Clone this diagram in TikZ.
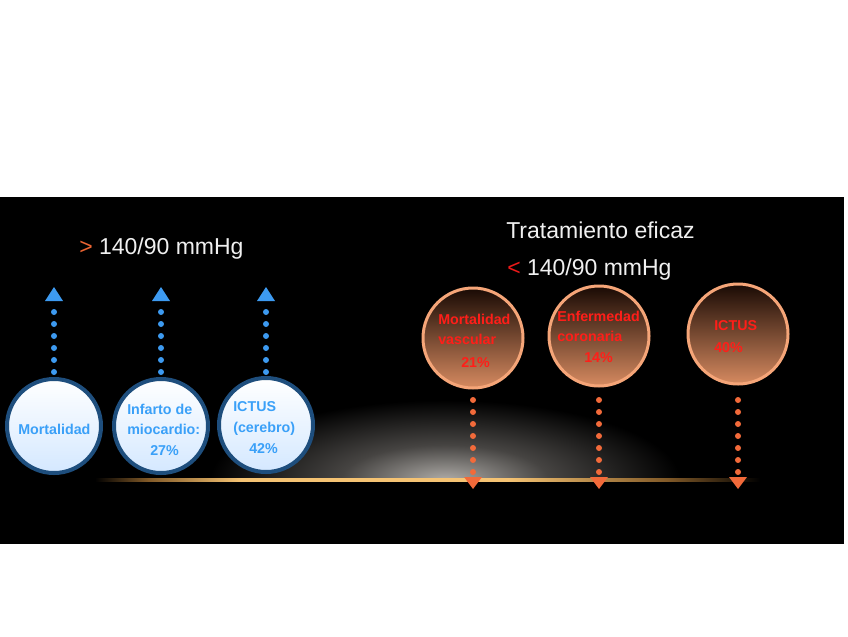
\documentclass[tikz,border=0pt]{standalone}
\usepackage{fontspec}
\setmainfont{Liberation Sans}
\usetikzlibrary{arrows.meta}
\definecolor{titlec}{RGB}{240,240,240}
\definecolor{gtc}{RGB}{235,100,50}
\definecolor{ltc}{RGB}{235,25,25}
\definecolor{bluetext}{RGB}{58,160,248}
\definecolor{bluedot}{RGB}{61,154,240}
\definecolor{blueborder}{RGB}{30,78,125}
\definecolor{bluefill}{RGB}{212,232,255}
\definecolor{odot}{RGB}{242,106,58}
\definecolor{oborder}{RGB}{245,165,120}
\definecolor{otop}{RGB}{25,10,4}
\definecolor{obot}{RGB}{214,138,96}
\definecolor{redtext}{RGB}{255,30,25}
\definecolor{glowc}{RGB}{175,172,168}
\definecolor{glowm}{RGB}{70,68,66}
\definecolor{goldc}{RGB}{245,195,115}
\definecolor{golddim}{RGB}{130,90,40}
\pgfdeclareradialshading{glowshade}{\pgfpointorigin}{color(0bp)=(glowc); color(11bp)=(glowm); color(25bp)=(black); color(50bp)=(black)}
\pgfdeclarehorizontalshading{goldshade}{100bp}{color(0bp)=(black); color(25bp)=(black); color(29bp)=(golddim); color(36bp)=(goldc); color(56bp)=(goldc); color(68bp)=(golddim); color(75bp)=(black); color(100bp)=(black)}
\begin{document}
\begin{tikzpicture}[x=0.75pt,y=-0.75pt,
  titletxt/.style={inner sep=0pt, anchor=base west, text=titlec, font=\fontsize{17.25}{20}\selectfont},
  btxt/.style={inner sep=0pt, anchor=base west, text=bluetext, font=\bfseries\fontsize{10.7}{12}\selectfont},
  rtxt/.style={inner sep=0pt, anchor=base west, text=redtext, font=\bfseries\fontsize{10.7}{12}\selectfont},
  bcirc/.style={circle, minimum size=70.5pt, inner sep=0pt, draw=blueborder, line width=3pt, top color=white, bottom color=bluefill},
  ocirc/.style={circle, minimum size=75pt, inner sep=0pt, draw=oborder, line width=2.25pt, top color=otop, bottom color=obot},
  bdots/.style={draw=bluedot, line width=4.5pt, line cap=round, dash pattern=on 0pt off 9pt, -{Triangle[length=10.5pt,width=13.5pt,line width=0pt]}},
  odots/.style={draw=odot, line width=4.5pt, line cap=round, dash pattern=on 0pt off 9pt, -{Triangle[length=9pt,width=13.5pt,line width=0pt]}}
]
\useasboundingbox (0,0) rectangle (848,636);
\fill[white] (0,0) rectangle (848,636);
\fill[black] (0,197) rectangle (844,544);
% glow above the horizon line
\begin{scope}
  \clip (0,197) rectangle (844,480);
  \shade[shading=glowshade] (445,480) ellipse [x radius=235, y radius=80];
\end{scope}
\shade[shading=goldshade] (95,478.5) rectangle (760,481.5);

% titles
\node[titletxt] (t1) at (79,254) {\textcolor{gtc}{>} 140/90 mmHg};
\node[titletxt] (t2) at (506,238) {Tratamiento eficaz};
\node[titletxt] (t3) at (507,275) {\textcolor{ltc}{<} 140/90 mmHg};

% blue circles
\node[bcirc] (b1) at (54,426) {};
\node[bcirc] (b2) at (161,426) {};
\node[bcirc] (b3) at (266,425) {};

\node[btxt] (b1a) at (18,434) {Mortalidad};
\node[btxt] (b2a) at (127,414) {Infarto de};
\node[btxt] (b2b) at (127,434) {miocardio:};
\node[btxt] (b2c) at (150,455) {27\%};
\node[btxt] (b3a) at (233,411) {ICTUS};
\node[btxt] (b3b) at (233,432) {(cerebro)};
\node[btxt] (b3c) at (249,453) {42\%};

% orange circles
\node[ocirc] (o1) at (473,338) {};
\node[ocirc] (o2) at (599,336) {};
\node[ocirc] (o3) at (738,334) {};

\node[rtxt] (o1a) at (438,324) {Mortalidad};
\node[rtxt] (o1b) at (438,344) {vascular};
\node[rtxt] (o1c) at (461,367) {21\%};
\node[rtxt] (o2a) at (557,321) {Enfermedad};
\node[rtxt] (o2b) at (557,341) {coronaria};
\node[rtxt] (o2c) at (584,362) {14\%};
\node[rtxt] (o3a) at (714,330) {ICTUS};
\node[rtxt] (o3b) at (714,352) {40\%};

% helper lines
\coordinate (bstart) at (0,372);
\coordinate (btip) at (0,287);
\coordinate (ostart) at (0,400);
\coordinate (otip) at (0,489);

\draw[bdots] (b1.north |- bstart) -- (b1.north |- btip);
\draw[bdots] (b2.north |- bstart) -- (b2.north |- btip);
\draw[bdots] (b3.north |- bstart) -- (b3.north |- btip);

\draw[odots] (o1.south |- ostart) -- (o1.south |- otip);
\draw[odots] (o2.south |- ostart) -- (o2.south |- otip);
\draw[odots] (o3.south |- ostart) -- (o3.south |- otip);
\end{tikzpicture}
\end{document}
